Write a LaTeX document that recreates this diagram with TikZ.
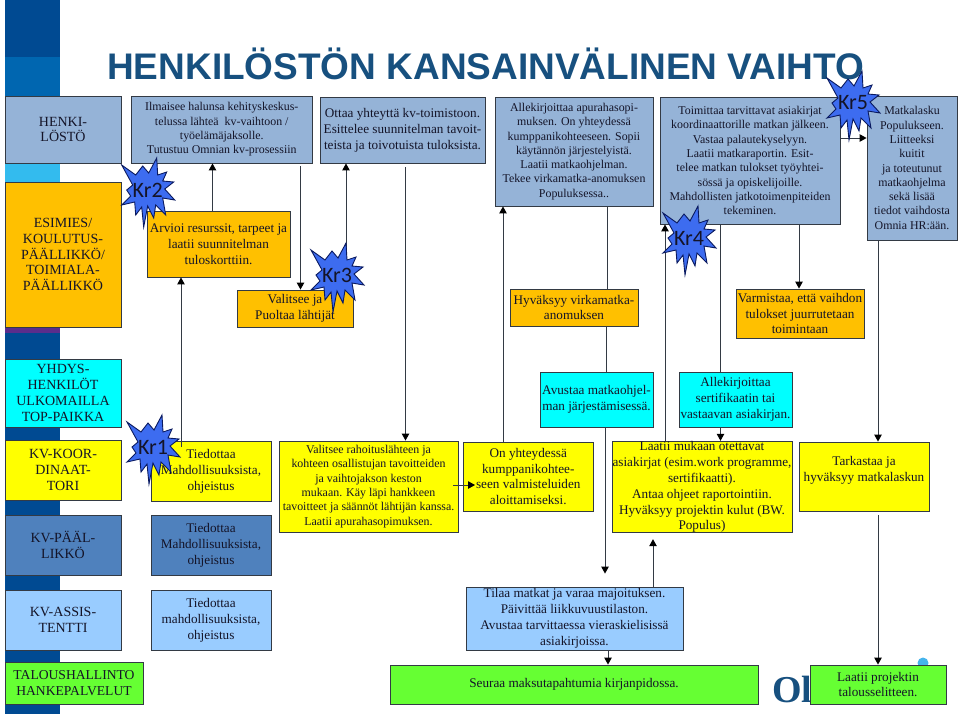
\documentclass[tikz,border=0pt]{standalone}
\usepackage{fontspec}
\setmainfont{Liberation Serif}
\newfontfamily\titlefont{Liberation Sans}
\newfontfamily\krfont{Carlito}
\usetikzlibrary{arrows.meta}
\definecolor{stripdark}{HTML}{004A92}
\definecolor{stripmid}{HTML}{0066B0}
\definecolor{striplight}{HTML}{33BBEE}
\definecolor{strippurple}{HTML}{5A2D8C}
\definecolor{titleblue}{HTML}{17507F}
\definecolor{edge}{HTML}{333A44}
\definecolor{ink}{HTML}{141428}
\definecolor{cblue}{HTML}{95B3D7}
\definecolor{cdark}{HTML}{4F81BD}
\definecolor{clight}{HTML}{99CCFF}
\definecolor{ccyan}{HTML}{00FFFF}
\definecolor{cyellow}{HTML}{FFFF00}
\definecolor{camber}{HTML}{FFC000}
\definecolor{cgreen}{HTML}{66FF33}
\definecolor{cstar}{HTML}{3D6CF0}
\definecolor{cstaredge}{HTML}{0A1A60}
\definecolor{cdot}{HTML}{45B4EC}
\tikzset{
  boxbase/.style={draw=edge,line width=0.9pt,inner sep=0pt,align=center,text=ink},
  smalltext/.style={font=\fontsize{11.9}{14.3}\selectfont},
  bigtext/.style={font=\fontsize{13.2}{15.9}\selectfont},
  roletext/.style={font=\fontsize{14}{15.9}\selectfont},
  arr/.style={draw=edge,line width=1pt,-{Triangle[width=7.5pt,length=7pt,color=black]}},
  plainline/.style={draw=edge,line width=1pt},
  krstar/.style={draw=cstaredge,line width=0.9pt,fill=cstar,line join=miter},
  krlabel/.style={font=\krfont\fontsize{22}{24}\selectfont,text=ink,inner sep=0pt}
}
\newcommand\bx[7]{%
  \pgfmathsetmacro\bcx{(#2+#4)/2}\pgfmathsetmacro\bcy{(#3+#5)/2}%
  \pgfmathsetmacro\bw{#4-#2}\pgfmathsetmacro\bh{#5-#3}%
  \node[boxbase,#6,minimum width=\bw pt,minimum height=\bh pt] (#1) at (\bcx,\bcy) {#7};}
\newcommand\vlink[4][arr]{%
  \coordinate (tmpx) at (#2,0);
  \draw[#1] (#3 -| tmpx) -- (#4 -| tmpx);}
\newcommand\krs[3]{%
  \begin{scope}[shift={(#2,#3)}]
    \draw[krstar] (-26,-25)--(-12,-15)--(-5,-24)--(1,-17)--(9,-32)--(10,-15)--(19,-18)--(15,-9)--(26,-8)--(17,-1)--(27,10)--(15,8)--(18,25)--(8,15)--(6,28)--(0,16)--(-4,37)--(-6,17)--(-12,25)--(-13,12)--(-26,15)--(-17,6)--(-21,0)--(-15,-5)--cycle;
    \node[krlabel] (#1) at (0,0) {#1};
  \end{scope}}
\begin{document}
\begin{tikzpicture}[x=1pt,y=-1pt]
\useasboundingbox (0,0) rectangle (960,716);
% side strip
\fill[stripdark] (5,0) rectangle (60,57);
\fill[stripmid] (5,57) rectangle (60,96);
\fill[striplight] (5,163) rectangle (60,182);
\fill[strippurple] (5,327) rectangle (60,333);
\fill[stripdark] (5,333) rectangle (60,359);
\fill[stripdark] (5,427) rectangle (60,440);
\fill[stripdark] (5,500) rectangle (60,515);
\fill[stripdark] (5,575) rectangle (60,590);
\fill[stripdark] (5,650) rectangle (60,662);
\fill[stripdark] (5,704) rectangle (60,714);
% title
\node[anchor=base west,inner sep=0pt,text=titleblue,font=\titlefont\bfseries\fontsize{37}{40}\selectfont] (title) at (107,79) {HENKILÖSTÖN KANSAINVÄLINEN VAIHTO};
% logo
\node[anchor=base west,inner sep=0pt,text=titleblue,font=\bfseries\fontsize{38}{42}\selectfont] (logo) at (772,702) {Ol};
\fill[cdot] (923,663) circle (5.5);
% left column
\bx{henki}{5}{96}{121}{163}{fill=cblue,roletext}{HENKI-\\LÖSTÖ}
\bx{esimies}{5}{182}{121}{327}{fill=camber,roletext}{ESIMIES/\\KOULUTUS-\\PÄÄLLIKKÖ/\\TOIMIALA-\\PÄÄLLIKKÖ}
\bx{yhdys}{5}{359}{121}{427}{fill=ccyan,roletext}{YHDYS-\\HENKILÖT\\ULKOMAILLA\\TOP-PAIKKA}
\bx{koor}{5}{440}{121}{500}{fill=cyellow,roletext}{KV-KOOR-\\DINAAT-\\TORI}
\bx{paal}{5}{515}{121}{575}{fill=cdark,roletext}{KV-PÄÄL-\\LIKKÖ}
\bx{assis}{5}{590}{121}{650}{fill=clight,roletext}{KV-ASSIS-\\TENTTI}
\bx{talous}{5}{662}{143}{704}{fill=cgreen,font=\fontsize{13.6}{15.9}\selectfont}{TALOUSHALLINTO\\HANKEPALVELUT}
% upper boxes
\bx{ilmaisee}{131.5}{96}{312}{163}{fill=cblue,smalltext}{Ilmaisee halunsa kehityskeskus-\\telussa lähteä~ kv-vaihtoon /\\työelämäjaksolle.\\Tutustuu Omnian kv-prosessiin}
\bx{ottaa}{320}{97}{485}{163}{fill=cblue,bigtext}{Ottaa yhteyttä kv-toimistoon.\\Esittelee suunnitelman tavoit-\\teista ja toivotuista tuloksista.}
\bx{arvioi}{147}{211}{290}{277}{fill=camber,bigtext}{Arvioi resurssit, tarpeet ja\\laatii suunnitelman\\tuloskorttiin.}
\bx{puoltaa}{237}{290}{353}{327}{fill=camber,bigtext}{Valitsee ja\\Puoltaa lähtijät}
\bx{allek}{495}{97}{653}{206}{fill=cblue,smalltext}{Allekirjoittaa apurahasopi-\\muksen. On yhteydessä\\kumppanikohteeseen. Sopii\\käytännön järjestelyistä.\\Laatii matkaohjelman.\\Tekee virkamatka-anomuksen\\Populuksessa..}
\bx{toimittaa}{660}{97}{840}{224}{fill=cblue,smalltext}{Toimittaa tarvittavat asiakirjat\\koordinaattorille matkan jälkeen.\\Vastaa palautekyselyyn.\\Laatii matkaraportin. Esit-\\telee matkan tulokset työyhtei-\\sössä ja opiskelijoille.\\Mahdollisten jatkotoimenpiteiden\\tekeminen.}
\bx{matka}{867}{96}{957}{240}{fill=cblue,smalltext}{Matkalasku\\Populukseen.\\Liitteeksi\\kuitit\\ja toteutunut\\matkaohjelma\\sekä lisää\\tiedot vaihdosta\\Omnia HR:ään.}
\bx{hyvaksyy}{510}{289}{638}{326}{fill=camber,bigtext}{Hyväksyy virkamatka-\\anomuksen}
\bx{varmistaa}{736}{289}{864}{338}{fill=camber,bigtext}{Varmistaa, että vaihdon\\tulokset juurrutetaan\\toimintaan}
% lower boxes
\bx{avustaa}{540}{372}{653}{427}{fill=ccyan,bigtext}{Avustaa matkaohjel-\\man järjestämisessä.}
\bx{sertif}{679}{372}{792}{427}{fill=ccyan,bigtext}{Allekirjoittaa\\sertifikaatin tai\\vastaavan asiakirjan.}
\bx{tied1}{151}{441}{271}{501}{fill=cyellow,bigtext}{Tiedottaa\\Mahdollisuuksista,\\ohjeistus}
\bx{tied2}{151}{515}{271}{575}{fill=cdark,bigtext}{Tiedottaa\\Mahdollisuuksista,\\ohjeistus}
\bx{tied3}{151}{590}{271}{650}{fill=clight,bigtext}{Tiedottaa\\mahdollisuuksista,\\ohjeistus}
\bx{rahoitus}{279}{441}{458}{532}{fill=cyellow,smalltext}{Valitsee rahoituslähteen ja\\kohteen osallistujan tavoitteiden\\ja vaihtojakson keston\\mukaan. Käy läpi hankkeen\\tavoitteet ja säännöt lähtijän kanssa.\\Laatii apurahasopimuksen.}
\bx{yhteys}{463.5}{442}{593}{511}{fill=cyellow,bigtext}{On yhteydessä\\kumppanikohtee-\\seen valmisteluiden\\aloittamiseksi.}
\bx{mukaan}{612}{442}{792}{532}{fill=cyellow,bigtext}{Laatii mukaan otettavat\\asiakirjat (esim.work programme,\\sertifikaatti).\\Antaa ohjeet raportointiin.\\Hyväksyy projektin kulut (BW.\\Populus)}
\bx{tarkastaa}{799}{442}{929}{511}{fill=cyellow,bigtext}{Tarkastaa ja\\hyväksyy matkalaskun\\\mbox{}}
\bx{tilaa}{466}{587}{683}{650}{fill=clight,bigtext}{Tilaa matkat ja varaa majoituksen.\\Päivittää liikkuvuustilaston.\\Avustaa tarvittaessa vieraskielisissä\\asiakirjoissa.}
\bx{seuraa}{390}{665}{758}{704}{fill=cgreen,bigtext}{Seuraa maksutapahtumia kirjanpidossa.}
\bx{projektin}{810}{665}{946}{704}{fill=cgreen,bigtext}{Laatii projektin\\talousselitteen.}
% connectors
\vlink{212.5}{arvioi.north}{ilmaisee.south}
\vlink[arr,shorten <=3pt]{300.5}{ilmaisee.south}{puoltaa.north}
\vlink{346}{puoltaa.north}{ottaa.south}
\vlink[arr,shorten <=4pt]{405.5}{ottaa.south}{rahoitus.north}
\coordinate (rahout) at (453,485);
\coordinate (yhtin) at (475,485);
\draw[arr] (rahout) -- (yhtin);
\vlink{503}{yhteys.north}{allek.south}
\vlink[plainline]{607.5}{allek.south}{hyvaksyy.north}
\vlink[plainline]{606.7}{hyvaksyy.south}{avustaa.north}
\vlink[arr,shorten >=13pt]{605}{avustaa.south}{tilaa.north}
\vlink{608}{tilaa.south}{seuraa.north}
\vlink[arr,shorten >=6pt]{653}{tilaa.north}{mukaan.south}
\vlink{665}{mukaan.north}{toimittaa.south}
\vlink[plainline]{720.5}{toimittaa.south}{sertif.north}
\vlink{720.5}{sertif.south}{mukaan.north}
\vlink{799}{toimittaa.south}{varmistaa.north}
\coordinate (mhy) at (840,138);
\draw[arr] (mhy) -- (mhy -| matka.west);
\vlink{878}{matka.south}{tarkastaa.north}
\vlink[arr,shorten <=4pt]{878}{tarkastaa.south}{projektin.north}
% stars
\krs{Kr2}{147.7}{190}
\krs{Kr3}{337}{275}
\krs{Kr5}{853}{103}
\krs{Kr4}{689}{238}
\krs{Kr1}{153}{447}
\coordinate (tstart) at (181,447);
\draw[arr] (tstart) -- (tstart |- arvioi.south);
\end{tikzpicture}
\end{document}
